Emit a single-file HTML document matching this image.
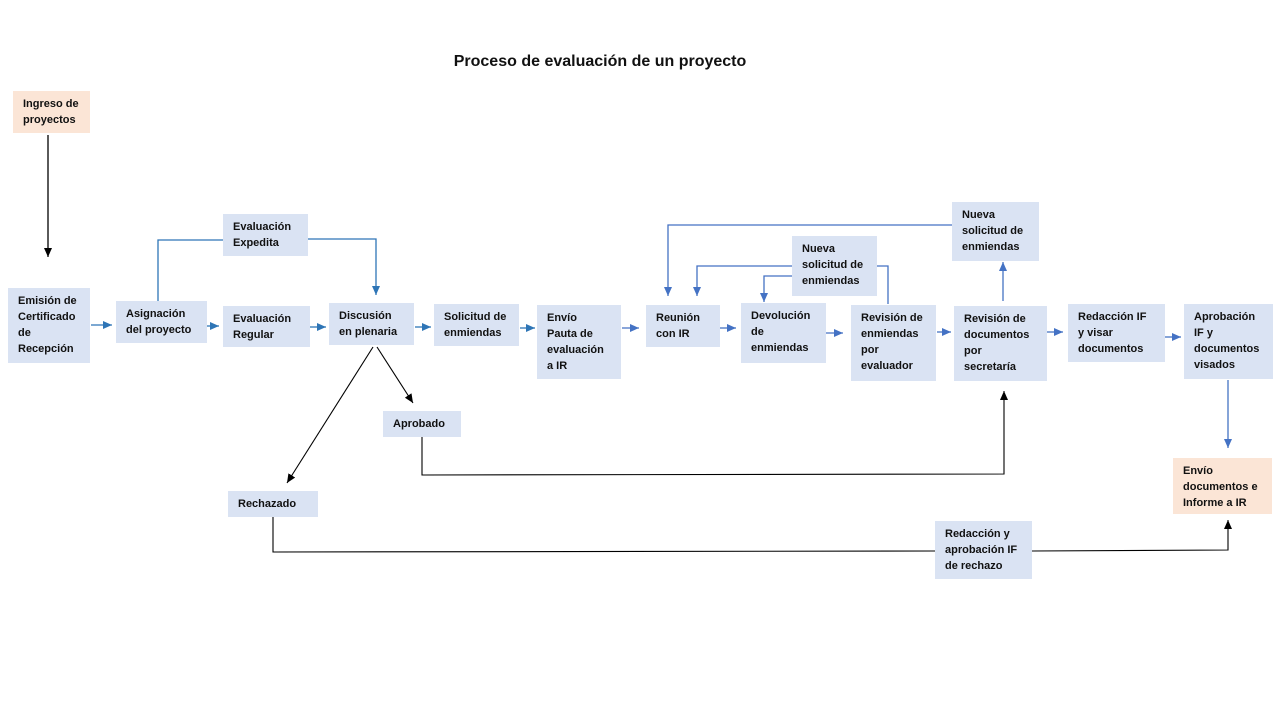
<!DOCTYPE html>
<html>
<head>
<meta charset="utf-8">
<style>
  html,body{margin:0;padding:0;background:#fff;}
  #c{position:relative;width:1280px;height:720px;overflow:hidden;background:#fff;font-family:"Liberation Sans",Arial,sans-serif;}
  .b{position:absolute;background:#dae3f3;color:#111;font-weight:bold;font-size:11px;line-height:16px;padding:5px 0 0 10px;box-sizing:border-box;white-space:nowrap;}
  .o{background:#fbe5d6;}
  svg{position:absolute;left:0;top:0;}
  .t{position:absolute;left:0;width:1200px;top:53px;text-align:center;font-weight:bold;font-size:16px;color:#111;}
</style>
</head>
<body>
<div id="c">
<svg width="1280" height="720" viewBox="0 0 1280 720">
  <defs>
    <marker id="ab" markerUnits="userSpaceOnUse" markerWidth="10" markerHeight="8" refX="9" refY="4" orient="auto"><path d="M0,0 L9,4 L0,8 z" fill="#2e75b6"/></marker>
    <marker id="ap" markerUnits="userSpaceOnUse" markerWidth="10" markerHeight="8" refX="9" refY="4" orient="auto"><path d="M0,0 L9,4 L0,8 z" fill="#4472c4"/></marker>
    <marker id="ak" markerUnits="userSpaceOnUse" markerWidth="10" markerHeight="8" refX="9" refY="4" orient="auto"><path d="M0,0 L9,4 L0,8 z" fill="#000"/></marker>
  </defs>
  <g fill="none" stroke-width="1.3">
    <line x1="48" y1="135" x2="48" y2="257" stroke="#000" marker-end="url(#ak)"/>
    <line x1="91" y1="325" x2="112" y2="325" stroke="#2e75b6" marker-end="url(#ab)"/>
    <line x1="207" y1="326" x2="219" y2="326" stroke="#2e75b6" marker-end="url(#ab)"/>
    <line x1="310" y1="327" x2="326" y2="327" stroke="#2e75b6" marker-end="url(#ab)"/>
    <line x1="415" y1="327" x2="431" y2="327" stroke="#2e75b6" marker-end="url(#ab)"/>
    <line x1="520" y1="328" x2="535" y2="328" stroke="#2e75b6" marker-end="url(#ab)"/>
    <line x1="622" y1="328" x2="639" y2="328" stroke="#4472c4" marker-end="url(#ap)"/>
    <line x1="720" y1="328" x2="736" y2="328" stroke="#4472c4" marker-end="url(#ap)"/>
    <line x1="826" y1="333" x2="843" y2="333" stroke="#4472c4" marker-end="url(#ap)"/>
    <line x1="937" y1="332" x2="951" y2="332" stroke="#4472c4" marker-end="url(#ap)"/>
    <line x1="1047" y1="332" x2="1063" y2="332" stroke="#4472c4" marker-end="url(#ap)"/>
    <line x1="1165" y1="337" x2="1181" y2="337" stroke="#4472c4" marker-end="url(#ap)"/>
    <polyline points="158,301 158,240 223,240" stroke="#2e75b6"/>
    <polyline points="308,239 376,239 376,295" stroke="#2e75b6" marker-end="url(#ab)"/>
    <polyline points="952,225 668,225 668,296" stroke="#4472c4" marker-end="url(#ap)"/>
    <polyline points="888,304 888,266 697,266 697,296" stroke="#4472c4" marker-end="url(#ap)"/>
    <polyline points="792,276 764,276 764,302" stroke="#4472c4" marker-end="url(#ap)"/>
    <line x1="1003" y1="301" x2="1003" y2="262" stroke="#4472c4" marker-end="url(#ap)"/>
    <line x1="1228" y1="380" x2="1228" y2="448" stroke="#4472c4" marker-end="url(#ap)"/>
    <line x1="373" y1="347" x2="287" y2="483" stroke="#000" stroke-width="1.1" marker-end="url(#ak)"/>
    <line x1="377" y1="347" x2="413" y2="403" stroke="#000" stroke-width="1.1" marker-end="url(#ak)"/>
    <polyline points="422,437 422,475 1004,474 1004,391" stroke="#000" stroke-width="1.1" marker-end="url(#ak)"/>
    <polyline points="273,517 273,552 935,551" stroke="#000" stroke-width="1.1"/>
    <polyline points="1032,551 1228,550 1228,520" stroke="#000" stroke-width="1.1" marker-end="url(#ak)"/>
  </g>
</svg>

<div class="t">Proceso de evaluación de un proyecto</div>

<div class="b o" style="left:13px;top:91px;width:77px;height:42px;">Ingreso de<br>proyectos</div>
<div class="b" style="left:8px;top:288px;width:82px;height:75px;">Emisión de<br>Certificado<br>de<br>Recepción</div>
<div class="b" style="left:116px;top:301px;width:91px;height:42px;">Asignación<br>del proyecto</div>
<div class="b" style="left:223px;top:214px;width:85px;height:42px;">Evaluación<br>Expedita</div>
<div class="b" style="left:223px;top:306px;width:87px;height:41px;">Evaluación<br>Regular</div>
<div class="b" style="left:329px;top:303px;width:85px;height:42px;">Discusión<br>en plenaria</div>
<div class="b" style="left:434px;top:304px;width:85px;height:42px;">Solicitud de<br>enmiendas</div>
<div class="b" style="left:537px;top:305px;width:84px;height:74px;">Envío<br>Pauta de<br>evaluación<br>a IR</div>
<div class="b" style="left:646px;top:305px;width:74px;height:42px;">Reunión<br>con IR</div>
<div class="b" style="left:741px;top:303px;width:85px;height:60px;">Devolución<br>de<br>enmiendas</div>
<div class="b" style="left:792px;top:236px;width:85px;height:60px;">Nueva<br>solicitud de<br>enmiendas</div>
<div class="b" style="left:851px;top:305px;width:85px;height:76px;">Revisión de<br>enmiendas<br>por<br>evaluador</div>
<div class="b" style="left:952px;top:202px;width:87px;height:59px;">Nueva<br>solicitud de<br>enmiendas</div>
<div class="b" style="left:954px;top:306px;width:93px;height:75px;">Revisión de<br>documentos<br>por<br>secretaría</div>
<div class="b" style="left:1068px;top:304px;width:97px;height:58px;">Redacción IF<br>y visar<br>documentos</div>
<div class="b" style="left:1184px;top:304px;width:89px;height:75px;">Aprobación<br>IF y<br>documentos<br>visados</div>
<div class="b" style="left:383px;top:411px;width:78px;height:26px;">Aprobado</div>
<div class="b" style="left:228px;top:491px;width:90px;height:26px;">Rechazado</div>
<div class="b o" style="left:1173px;top:458px;width:99px;height:56px;">Envío<br>documentos e<br>Informe a IR</div>
<div class="b" style="left:935px;top:521px;width:97px;height:58px;">Redacción y<br>aprobación IF<br>de rechazo</div>
</div>
</body>
</html>
